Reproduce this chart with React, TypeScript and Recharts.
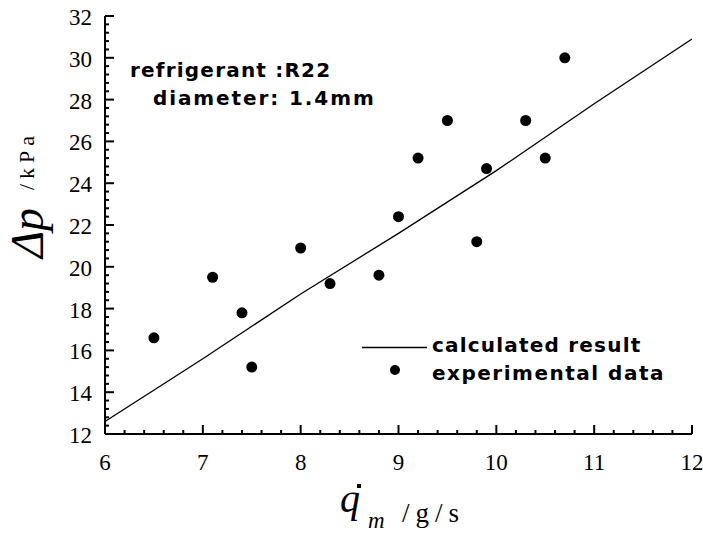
import React from 'react';
import { ComposedChart, XAxis, YAxis, Line, Scatter, Legend } from 'recharts';

// calculated result (line)
const calcX = [6, 7, 8, 9, 10, 11, 12];
const calcY = [12.6, 15.6, 18.7, 21.6, 24.6, 27.8, 30.9];

// experimental data (points)
const expX = [6.5, 7.1, 7.4, 7.5, 8.0, 8.3, 8.8, 9.0, 9.2, 9.5, 9.8, 9.9, 10.3, 10.5, 10.7];
const expY = [16.6, 19.5, 17.8, 15.2, 20.9, 19.2, 19.6, 22.4, 25.2, 27.0, 21.2, 24.7, 27.0, 25.2, 30.0];

// ticks
const xMajorTicks = [6, 7, 8, 9, 10, 11, 12];
const xMinorTicks = [
  6.2, 6.4, 6.6, 6.8, 7.2, 7.4, 7.6, 7.8, 8.2, 8.4, 8.6, 8.8,
  9.2, 9.4, 9.6, 9.8, 10.2, 10.4, 10.6, 10.8, 11.2, 11.4, 11.6, 11.8,
];
const yMajorTicks = [12, 14, 16, 18, 20, 22, 24, 26, 28, 30, 32];
const yMinorTicks = [
  12.4, 12.8, 13.2, 13.6, 14.4, 14.8, 15.2, 15.6, 16.4, 16.8, 17.2, 17.6,
  18.4, 18.8, 19.2, 19.6, 20.4, 20.8, 21.2, 21.6, 22.4, 22.8, 23.2, 23.6,
  24.4, 24.8, 25.2, 25.6, 26.4, 26.8, 27.2, 27.6, 28.4, 28.8, 29.2, 29.6,
  30.4, 30.8, 31.2, 31.6,
];

const seriesNames = ['calculated result', 'experimental data'];
const noteLines = ['refrigerant :R22', 'diameter: 1.4mm'];

const calcData = calcX.map((x, i) => ({ x, y: calcY[i] }));
const expData = expX.map((x, i) => ({ x, y: expY[i] }));

const SERIF = 'Liberation Serif';
const SANS = 'DejaVu Sans';

const serifStyle = { fontFamily: SERIF };
const sansBold = { fontFamily: SANS, fontWeight: 700, fontSize: 20, letterSpacing: 1.2 };

const TICK_COLOR = '#000';

const XTick = (props: any) => {
  const { x, y, payload } = props;
  const v = payload.value;
  const major = xMajorTicks.includes(v);
  return (
    <g>
      <path d={`M${x},${y}V${y - (major ? 9 : 4)}`} stroke={TICK_COLOR} strokeWidth={2} fill="none" />
      {major && (
        <text x={x} y={y + 36} textAnchor="middle" style={{ ...serifStyle, fontSize: 23 }} fill="#000">
          {v}
        </text>
      )}
    </g>
  );
};

const YTick = (props: any) => {
  const { x, y, payload } = props;
  const v = payload.value;
  const major = yMajorTicks.includes(v);
  return (
    <g>
      <path d={`M${x},${y}H${x + (major ? 9 : 4)}`} stroke={TICK_COLOR} strokeWidth={2} fill="none" />
      {major && (
        <text x={x - 13} y={y + 9} textAnchor="end" style={{ ...serifStyle, fontSize: 23 }} fill="#000">
          {v}
        </text>
      )}
    </g>
  );
};

const YLabel = () => (
  <g fill="#000">
    <text
      x={43}
      y={258}
      transform="rotate(-90 43 258)"
      style={{ ...serifStyle, fontStyle: 'italic', fontSize: 46 }}
    >
      Δp
    </text>
    <text x={34} y={190} transform="rotate(-90 34 190)" style={{ ...serifStyle, fontSize: 22, letterSpacing: 5 }}>
      /kPa
    </text>
    <text x={130} y={77} style={sansBold}>
      {noteLines[0]}
    </text>
    <text x={153} y={105} style={{ ...sansBold, letterSpacing: 1.9 }}>
      {noteLines[1]}
    </text>
  </g>
);

const XLabel = () => (
  <g fill="#000">
    <text x={340} y={512} style={{ ...serifStyle, fontStyle: 'italic', fontSize: 40 }}>
      q
    </text>
    <rect x={357} y={484} width={4} height={4} fill="#000" />
    <text x={368} y={528} style={{ ...serifStyle, fontStyle: 'italic', fontSize: 23 }}>
      m
    </text>
    <text x={402} y={522} style={{ ...serifStyle, fontSize: 27, letterSpacing: 6 }}>
      /g/s
    </text>
  </g>
);

const renderLegend = () => (
  <svg width={330} height={60} style={{ display: 'block' }}>
    <line x1={7} x2={72} y1={17.5} y2={17.5} stroke="#000" strokeWidth={1.3} />
    <text x={77} y={22} style={sansBold} fill="#000">
      {seriesNames[0]}
    </text>
    <circle cx={40} cy={40} r={5} fill="#000" />
    <text x={77} y={50} style={{ ...sansBold, letterSpacing: 1.5 }} fill="#000">
      {seriesNames[1]}
    </text>
  </svg>
);

const Dot = (props: any) => {
  const { cx, cy } = props;
  if (cx == null || cy == null) return null;
  return <circle cx={cx} cy={cy} r={5.5} fill="#000" />;
};

export default function App() {
  return (
    <div style={{ position: 'absolute', left: 0, top: 0, width: 703, height: 535, background: '#fff' }}>
      <ComposedChart width={703} height={535} margin={{ top: 16, right: 11, bottom: 0, left: 0 }}>
        <XAxis
          xAxisId={0}
          type="number"
          dataKey="x"
          domain={[6, 12]}
          ticks={[...xMajorTicks, ...xMinorTicks]}
          interval={0}
          allowDataOverflow
          height={101}
          tickSize={0}
          tickMargin={0}
          tickLine={false}
          axisLine={{ stroke: '#000', strokeWidth: 2 }}
          tick={XTick}
          label={XLabel}
        />
        <XAxis
          xAxisId="top"
          orientation="top"
          type="number"
          domain={[6, 12]}
          allowDataOverflow
          height={0}
          tick={false}
          tickLine={false}
          axisLine={{ stroke: '#000', strokeWidth: 2 }}
        />
        <YAxis
          yAxisId={0}
          type="number"
          dataKey="y"
          domain={[12, 32]}
          ticks={[...yMajorTicks, ...yMinorTicks]}
          interval={0}
          allowDataOverflow
          width={105}
          tickSize={0}
          tickMargin={0}
          tickLine={false}
          axisLine={{ stroke: '#000', strokeWidth: 2 }}
          tick={YTick}
          label={YLabel}
        />
        <YAxis
          yAxisId="right"
          orientation="right"
          type="number"
          domain={[12, 32]}
          allowDataOverflow
          width={0}
          tick={false}
          tickLine={false}
          axisLine={{ stroke: '#000', strokeWidth: 2 }}
        />
        <Legend
          layout="horizontal"
          verticalAlign="middle"
          align="center"
          content={renderLegend}
          wrapperStyle={{ position: 'absolute', left: 355, top: 330, width: 330, height: 60 }}
        />
        <Line
          data={calcData}
          dataKey="y"
          name={seriesNames[0]}
          type="linear"
          stroke="#000"
          strokeWidth={1.3}
          dot={false}
          activeDot={false}
          isAnimationActive={false}
        />
        <Scatter
          data={expData}
          dataKey="y"
          name={seriesNames[1]}
          fill="#000"
          shape={Dot}
          isAnimationActive={false}
        />
      </ComposedChart>
    </div>
  );
}
